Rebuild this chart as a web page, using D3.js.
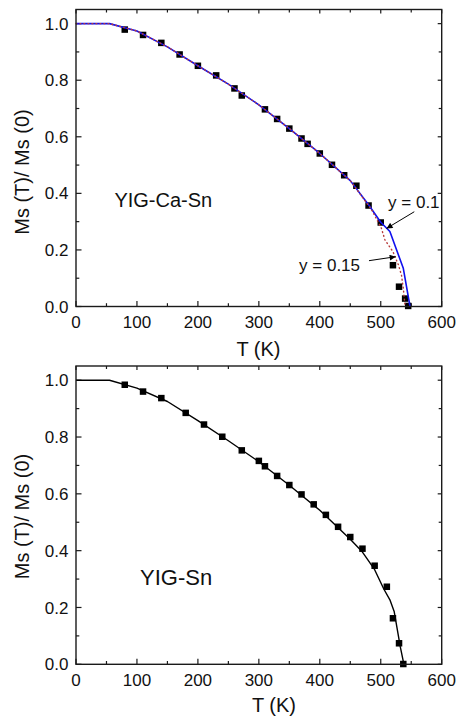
<!DOCTYPE html>
<html><head><meta charset="utf-8">
<script src="https://cdn.jsdelivr.net/npm/d3@7"></script>
<style>
html,body{margin:0;padding:0;background:#fff;}
svg{display:block;font-family:"Liberation Sans",Arial,sans-serif;}
</style></head>
<body>
<script>
// ---- Data ----
const xTicks = [0,100,200,300,400,500,600];
const yTicks = [0.0,0.2,0.4,0.6,0.8,1.0];
const yTickLabels = ["0.0","0.2","0.4","0.6","0.8","1.0"];
const xTickLabels = ["0","100","200","300","400","500","600"];

// Top panel: YIG-Ca-Sn measured points
const topT = [80,110,140,170,200,230,260,272,310,330,350,370,380,400,420,440,460,480,500,520,530,540,545];
const topM = [0.979,0.960,0.932,0.891,0.851,0.817,0.771,0.746,0.697,0.663,0.629,0.594,0.575,0.541,0.501,0.464,0.427,0.357,0.297,0.146,0.070,0.028,0.002];
// Top fit, y = 0.1 (blue)
const fit1T = [0,55,100,150,200,250,300,350,400,450,480,500,515,537,548];
const fit1M = [1.0,1.0,0.974,0.918,0.851,0.786,0.713,0.629,0.541,0.445,0.360,0.298,0.265,0.135,0.0];
// Top fit, y = 0.15 (red dotted)
const fit2T = [0,55,100,150,200,250,300,350,400,450,485,501,507,520,529,534,537,540];
const fit2M = [1.0,1.0,0.974,0.918,0.851,0.786,0.713,0.629,0.541,0.445,0.342,0.277,0.235,0.194,0.147,0.111,0.064,0.0];

// Bottom panel: YIG-Sn measured points
const botT = [80,110,140,180,210,240,272,300,310,330,350,370,390,410,430,450,470,490,510,520,530,537];
const botM = [0.984,0.960,0.937,0.885,0.844,0.801,0.753,0.716,0.697,0.663,0.631,0.598,0.563,0.526,0.484,0.448,0.407,0.347,0.273,0.162,0.074,0.001];
// Bottom fit (black)
const fit3T = [0,55,100,150,200,250,300,350,400,450,470,490,505,515,522,532,538];
const fit3M = [1.0,1.0,0.972,0.925,0.858,0.787,0.713,0.630,0.542,0.440,0.395,0.333,0.265,0.227,0.186,0.062,0.0];

// Annotations (data units)
const topLabel = {text:"YIG-Ca-Sn", T:63, M:0.353};
const botLabel = {text:"YIG-Sn", T:105, M:0.279};
const ann = [
  {text:"y = 0.1", T:512, M:0.348, from:[555,0.335], to:[509.5,0.276]},
  {text:"y = 0.15", T:366, M:0.125, from:[480.7,0.162], to:[524.5,0.176]}
];

// ---- Layout ----
const W = 456, H = 718;
const svg = d3.select("body").append("svg").attr("width",W).attr("height",H);
const defs = svg.append("defs");
defs.append("marker").attr("id","arr").attr("viewBox","0 0 10 10")
  .attr("refX",10).attr("refY",5).attr("markerWidth",8).attr("markerHeight",6)
  .attr("markerUnits","userSpaceOnUse").attr("orient","auto")
  .append("path").attr("d","M0,0 L10,5 L0,10 Z").attr("fill","#000");

const x = d3.scaleLinear().domain([0,600]).range([76,441.7]);

function panel(top, bottom, titleX, titleY, yLabelY){
  const y = d3.scaleLinear().domain([0,1.05]).range([bottom, top]);
  const g = svg.append("g");
  const frameColor = "#1a1a1a";
  // major/minor ticks
  const xMinor = d3.range(50,600,100);
  const yMinor = [0.1,0.3,0.5,0.7,0.9];
  const tk = g.append("g").attr("stroke",frameColor).attr("stroke-width",1.2);
  xTicks.forEach(v=>{
    tk.append("line").attr("x1",x(v)).attr("x2",x(v)).attr("y1",bottom).attr("y2",bottom-5.5);
    tk.append("line").attr("x1",x(v)).attr("x2",x(v)).attr("y1",top).attr("y2",top+4);
  });
  xMinor.forEach(v=>{
    tk.append("line").attr("x1",x(v)).attr("x2",x(v)).attr("y1",bottom).attr("y2",bottom-3.3);
    tk.append("line").attr("x1",x(v)).attr("x2",x(v)).attr("y1",top).attr("y2",top+3);
  });
  yTicks.forEach(v=>{
    tk.append("line").attr("y1",y(v)).attr("y2",y(v)).attr("x1",x(0)).attr("x2",x(0)+5.5);
    tk.append("line").attr("y1",y(v)).attr("y2",y(v)).attr("x1",x(600)).attr("x2",x(600)-4);
  });
  yMinor.forEach(v=>{
    tk.append("line").attr("y1",y(v)).attr("y2",y(v)).attr("x1",x(0)).attr("x2",x(0)+3.3);
    tk.append("line").attr("y1",y(v)).attr("y2",y(v)).attr("x1",x(600)).attr("x2",x(600)-3);
  });
  // tick labels
  xTicks.forEach((v,i)=>{
    g.append("text").attr("x",x(v)).attr("y",bottom+21.5).attr("text-anchor","middle")
      .attr("font-size",17).attr("fill","#111").text(xTickLabels[i]);
  });
  yTicks.forEach((v,i)=>{
    g.append("text").attr("x",x(0)-7.5).attr("y",y(v)).attr("dy","0.36em").attr("text-anchor","end")
      .attr("font-size",17).attr("fill","#111").text(yTickLabels[i]);
  });
  // titles
  g.append("text").attr("x",titleX).attr("y",titleY).attr("text-anchor","middle")
    .attr("font-size",20).attr("fill","#111").text("T (K)");
  g.append("text").attr("transform",`translate(28.5,${yLabelY}) rotate(-90)`).attr("text-anchor","middle")
    .attr("font-size",20).attr("fill","#111").text("Ms (T)/ Ms (0)");
  return {g,y,top,bottom,frameColor};
}

function frame(p){
  p.g.append("rect").attr("x",x(0)).attr("y",p.top).attr("width",x(600)-x(0)).attr("height",p.bottom-p.top)
    .attr("fill","none").attr("stroke",p.frameColor).attr("stroke-width",1.4);
}

function squares(p, T, M){
  const s = 6.5;
  p.g.append("g").selectAll("rect").data(T).join("rect")
    .attr("x",(d)=>x(d)-s/2).attr("y",(d,i)=>p.y(M[i])-s/2)
    .attr("width",s).attr("height",s).attr("fill","#000");
}
function curve(p, T, M, color, width, dash){
  const line = d3.line().x(d=>x(d[0])).y(d=>p.y(d[1]));
  const path = p.g.append("path").datum(T.map((t,i)=>[t,M[i]])).attr("d",line)
    .attr("fill","none").attr("stroke",color).attr("stroke-width",width).attr("stroke-linejoin","round");
  if(dash) path.attr("stroke-dasharray",dash).attr("stroke-linecap","round");
}

// Top panel
const p1 = panel(9.5, 306.5, 258.5, 355.5, 172);
squares(p1, topT, topM);
curve(p1, fit1T, fit1M, "#1010ee", 1.6);
curve(p1, fit2T, fit2M, "#b83a3a", 1.4, "0.8,3.2");
frame(p1);
p1.g.append("text").attr("x",x(topLabel.T)).attr("y",p1.y(topLabel.M)).attr("font-size",20).attr("fill","#111").text(topLabel.text);
ann.forEach(a=>{
  p1.g.append("text").attr("x",x(a.T)).attr("y",p1.y(a.M)).attr("font-size",17).attr("fill","#111").text(a.text);
  p1.g.append("line").attr("x1",x(a.from[0])).attr("y1",p1.y(a.from[1]))
    .attr("x2",x(a.to[0])).attr("y2",p1.y(a.to[1])).attr("stroke","#000").attr("stroke-width",1)
    .attr("marker-end","url(#arr)");
});

// Bottom panel
const p2 = panel(366, 664.3, 274, 712, 516.5);
squares(p2, botT, botM);
curve(p2, fit3T, fit3M, "#000", 1.4);
frame(p2);
p2.g.append("text").attr("x",x(botLabel.T)).attr("y",p2.y(botLabel.M)).attr("font-size",22).attr("fill","#111").text(botLabel.text);
</script>
</body></html>
